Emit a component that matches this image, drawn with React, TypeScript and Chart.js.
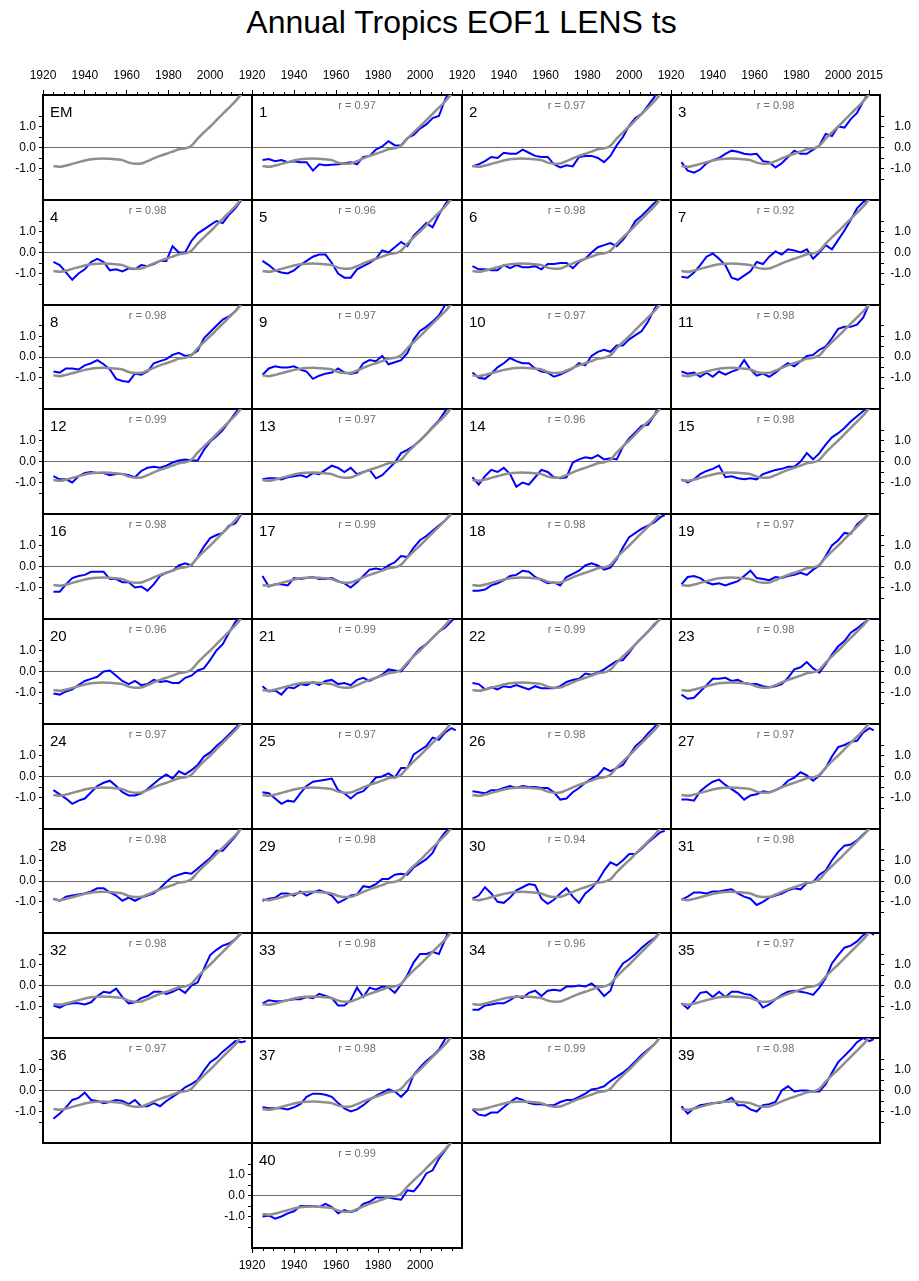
import React, { useEffect, useRef } from 'react';
import { Chart, registerables } from 'chart.js';

Chart.register(...registerables);

const FONT = "'Liberation Sans', Arial, Helvetica, sans-serif";

const TITLE = 'Annual Tropics EOF1 LENS ts';

const YEARS = [1925, 1928, 1931, 1934, 1937, 1940, 1943, 1946, 1949, 1952, 1955, 1958, 1961, 1964, 1967, 1970,
  1973, 1976, 1979, 1982, 1985, 1988, 1991, 1994, 1997, 2000, 2003, 2006, 2009, 2012, 2015, 2017];

const EM = [-0.88, -0.92, -0.86, -0.78, -0.70, -0.62, -0.56, -0.53, -0.52, -0.54, -0.56, -0.60, -0.72, -0.77, -0.76, -0.65,
  -0.52, -0.40, -0.30, -0.20, -0.08, -0.04, 0.08, 0.42, 0.72, 1.00, 1.30, 1.60, 1.90, 2.20, 2.55, 2.75];

const M01 = [-0.6, -0.55, -0.65, -0.6, -0.7, -0.65, -0.7, -0.7, -1.1, -0.8, -0.85, -0.82, -0.8, -0.75, -0.7, -0.8, -0.45, -0.4, -0.1, 0.05, 0.3, 0.1, 0.1, 0.45, 0.6, 0.9, 1.1, 1.4, 1.5, 2.3, 2.8, 3.0];
const M02 = [-0.9, -0.8, -0.65, -0.45, -0.5, -0.25, -0.3, -0.3, -0.1, -0.25, -0.4, -0.45, -0.45, -0.8, -0.95, -0.85, -0.9, -0.45, -0.4, -0.4, -0.5, -0.7, -0.4, 0.1, 0.5, 1.05, 1.4, 1.6, 2.0, 2.4, 2.9, 3.1];
const M03 = [-0.7, -1.1, -1.2, -1.05, -0.75, -0.6, -0.5, -0.3, -0.15, -0.2, -0.3, -0.33, -0.3, -0.65, -0.7, -0.95, -0.75, -0.45, -0.15, -0.3, -0.3, -0.1, 0.1, 0.65, 0.55, 1.0, 0.95, 1.35, 1.65, 2.2, 2.7, 2.9];
const M04 = [-0.45, -0.6, -0.95, -1.3, -1.0, -0.8, -0.45, -0.3, -0.45, -0.85, -0.8, -0.9, -0.75, -0.8, -0.6, -0.65, -0.55, -0.4, -0.4, 0.3, 0.0, 0.0, 0.55, 0.9, 1.1, 1.3, 1.5, 1.4, 1.8, 2.1, 2.5, 2.7];
const M05 = [-0.4, -0.6, -0.85, -0.95, -1.0, -0.85, -0.6, -0.4, -0.2, -0.1, -0.1, -0.5, -1.0, -1.2, -1.2, -0.8, -0.65, -0.5, -0.3, 0.1, 0.0, 0.25, 0.5, 0.3, 0.8, 1.1, 1.4, 1.2, 1.8, 2.3, 2.7, 2.9];
const M06 = [-0.65, -0.8, -0.8, -0.85, -0.85, -0.6, -0.75, -0.6, -0.7, -0.7, -0.65, -0.8, -0.55, -0.55, -0.5, -0.5, -0.75, -0.45, -0.3, 0.0, 0.25, 0.35, 0.45, 0.3, 0.6, 1.0, 1.5, 1.75, 2.05, 2.35, 2.55, 2.7];
const M07 = [-1.15, -1.2, -0.95, -0.6, -0.2, -0.05, -0.3, -0.6, -1.2, -1.3, -1.1, -0.9, -0.45, -0.55, -0.2, 0.05, -0.1, 0.15, 0.1, 0.0, 0.15, -0.3, 0.0, 0.35, 0.15, 0.6, 1.05, 1.55, 2.1, 2.4, 2.6, 2.8];
const M08 = [-0.7, -0.75, -0.55, -0.55, -0.6, -0.4, -0.3, -0.15, -0.35, -0.6, -1.05, -1.15, -1.2, -0.8, -0.85, -0.7, -0.3, -0.2, -0.1, 0.1, 0.2, 0.05, 0.1, 0.3, 0.9, 1.2, 1.5, 1.8, 1.95, 2.2, 2.6, 2.8];
const M09 = [-0.85, -0.55, -0.45, -0.5, -0.5, -0.45, -0.6, -0.7, -1.05, -0.9, -0.8, -0.75, -0.55, -0.75, -0.8, -0.75, -0.3, -0.15, -0.2, 0.05, -0.35, -0.25, -0.15, 0.2, 0.85, 1.25, 1.45, 1.7, 2.0, 2.5, 2.9, 3.1];
const M10 = [-0.75, -1.0, -1.05, -0.8, -0.5, -0.3, -0.05, -0.2, -0.3, -0.3, -0.55, -0.7, -0.75, -0.95, -0.85, -0.7, -0.55, -0.3, -0.4, 0.05, 0.25, 0.35, 0.25, 0.55, 0.55, 0.85, 1.05, 1.25, 1.7, 2.3, 2.7, 2.9];
const M11 = [-0.7, -0.8, -0.75, -0.95, -0.75, -0.95, -0.7, -0.85, -0.7, -0.6, -0.15, -0.6, -0.9, -0.8, -0.95, -0.75, -0.5, -0.3, -0.45, -0.2, 0.05, 0.1, 0.35, 0.5, 0.9, 1.35, 1.45, 1.45, 1.55, 1.9, 2.6, 2.8];
const M12 = [-0.7, -0.85, -0.85, -1.0, -0.7, -0.55, -0.5, -0.55, -0.55, -0.65, -0.6, -0.6, -0.65, -0.75, -0.45, -0.3, -0.25, -0.3, -0.2, -0.05, 0.05, 0.1, 0.05, 0.05, 0.55, 0.95, 1.2, 1.5, 1.9, 2.3, 2.7, 2.9];
const M13 = [-0.85, -0.8, -0.8, -0.85, -0.75, -0.7, -0.65, -0.75, -0.55, -0.6, -0.4, -0.2, -0.3, -0.5, -0.3, -0.6, -0.5, -0.4, -0.8, -0.65, -0.35, -0.05, 0.4, 0.55, 0.75, 1.0, 1.3, 1.65, 1.95, 2.4, 2.8, 3.0];
const M14 = [-0.75, -1.1, -0.7, -0.4, -0.5, -0.3, -0.6, -1.2, -1.0, -1.1, -0.75, -0.4, -0.5, -0.75, -0.8, -0.75, -0.05, 0.1, 0.2, 0.15, 0.3, 0.1, 0.15, 0.1, 0.7, 1.1, 1.4, 1.7, 1.75, 2.2, 2.8, 3.0];
const M15 = [-0.85, -1.0, -0.85, -0.6, -0.45, -0.35, -0.2, -0.75, -0.7, -0.8, -0.85, -0.8, -0.85, -0.6, -0.5, -0.4, -0.35, -0.25, -0.25, 0.0, 0.4, 0.1, 0.4, 0.8, 1.15, 1.35, 1.6, 1.9, 2.15, 2.4, 2.65, 2.8];
const M16 = [-1.2, -1.2, -0.85, -0.55, -0.45, -0.4, -0.25, -0.25, -0.25, -0.6, -0.6, -0.75, -0.75, -1.0, -0.95, -1.15, -0.85, -0.45, -0.3, -0.2, 0.05, 0.15, 0.05, 0.45, 0.95, 1.35, 1.5, 1.6, 1.95, 2.05, 2.5, 2.7];
const M17 = [-0.45, -0.95, -0.85, -0.85, -0.9, -0.55, -0.6, -0.55, -0.5, -0.6, -0.6, -0.55, -0.7, -0.8, -1.0, -0.75, -0.45, -0.15, -0.1, -0.15, 0.05, 0.2, 0.5, 0.45, 0.9, 1.25, 1.45, 1.7, 1.95, 2.2, 2.5, 2.65];
const M18 = [-1.15, -1.15, -1.1, -0.9, -0.8, -0.65, -0.45, -0.4, -0.2, -0.25, -0.5, -0.65, -0.8, -0.75, -0.9, -0.5, -0.35, -0.2, 0.05, 0.15, 0.05, -0.15, -0.05, 0.35, 0.9, 1.4, 1.6, 1.8, 1.95, 2.1, 2.35, 2.45];
const M19 = [-0.85, -0.5, -0.45, -0.55, -0.75, -0.85, -0.8, -0.9, -0.8, -0.7, -0.45, -0.2, -0.55, -0.6, -0.65, -0.5, -0.55, -0.45, -0.4, -0.3, -0.4, -0.15, 0.05, 0.5, 1.0, 1.25, 1.6, 1.55, 2.0, 2.25, 2.55, 2.7];
const M20 = [-1.05, -1.1, -0.95, -0.85, -0.65, -0.45, -0.35, -0.25, 0.0, 0.05, -0.2, -0.45, -0.6, -0.45, -0.65, -0.6, -0.4, -0.5, -0.45, -0.55, -0.55, -0.3, -0.2, 0.05, 0.15, 0.55, 1.0, 1.3, 1.85, 2.35, 2.7, 2.9];
const M21 = [-0.7, -0.95, -0.9, -1.1, -0.75, -0.8, -0.6, -0.65, -0.5, -0.65, -0.45, -0.4, -0.6, -0.55, -0.65, -0.4, -0.3, -0.45, -0.3, -0.15, 0.1, 0.05, 0.0, 0.35, 0.75, 1.1, 1.3, 1.6, 1.9, 2.1, 2.4, 2.6];
const M22 = [-0.55, -0.6, -0.85, -0.75, -0.85, -0.7, -0.75, -0.65, -0.75, -0.85, -0.7, -0.8, -0.8, -0.8, -0.7, -0.5, -0.4, -0.35, -0.1, -0.15, -0.05, 0.1, 0.3, 0.5, 0.55, 0.9, 1.3, 1.6, 1.9, 2.25, 2.5, 2.65];
const M23 = [-1.1, -1.3, -1.25, -0.95, -0.65, -0.35, -0.35, -0.3, -0.45, -0.4, -0.55, -0.6, -0.6, -0.7, -0.75, -0.7, -0.6, -0.3, 0.1, 0.2, 0.45, 0.15, -0.05, 0.35, 0.8, 1.2, 1.45, 1.85, 2.05, 2.3, 2.5, 2.55];
const M24 = [-0.65, -0.85, -1.05, -1.3, -1.15, -1.05, -0.75, -0.45, -0.3, -0.2, -0.45, -0.75, -0.9, -0.9, -0.8, -0.6, -0.35, -0.1, 0.1, -0.1, 0.25, 0.1, 0.3, 0.55, 0.95, 1.15, 1.45, 1.7, 2.0, 2.3, 2.6, 2.8];
const M25 = [-0.75, -0.8, -1.05, -1.3, -1.15, -1.2, -0.8, -0.45, -0.25, -0.2, -0.15, -0.1, -0.65, -0.8, -1.05, -0.8, -0.7, -0.4, -0.05, 0.0, 0.15, -0.05, 0.4, 0.4, 1.05, 1.25, 1.45, 1.85, 1.75, 2.1, 2.3, 2.2];
const M26 = [-0.7, -0.75, -0.8, -0.65, -0.65, -0.55, -0.45, -0.55, -0.45, -0.5, -0.5, -0.55, -0.55, -0.75, -1.1, -1.05, -0.75, -0.55, -0.3, -0.1, 0.05, 0.4, 0.25, 0.4, 0.55, 1.0, 1.45, 1.7, 2.05, 2.35, 2.7, 2.9];
const M27 = [-1.1, -1.1, -1.15, -0.7, -0.45, -0.25, -0.15, -0.4, -0.6, -0.8, -1.1, -0.9, -0.85, -0.7, -0.75, -0.65, -0.5, -0.2, -0.05, 0.2, 0.05, -0.2, 0.05, 0.4, 0.95, 1.4, 1.5, 1.65, 1.7, 2.1, 2.3, 2.2];
const M28 = [-0.85, -0.95, -0.75, -0.7, -0.65, -0.6, -0.5, -0.35, -0.35, -0.55, -0.7, -0.95, -0.8, -0.95, -0.8, -0.7, -0.6, -0.35, -0.05, 0.2, 0.3, 0.4, 0.35, 0.6, 0.85, 1.1, 1.45, 1.45, 1.8, 2.15, 2.55, 2.8];
const M29 = [-0.95, -0.85, -0.8, -0.6, -0.6, -0.7, -0.5, -0.7, -0.55, -0.45, -0.55, -0.7, -1.05, -0.9, -0.7, -0.65, -0.25, -0.3, -0.15, 0.1, 0.1, 0.3, 0.35, 0.3, 0.65, 0.85, 1.05, 1.35, 1.95, 2.35, 2.6, 2.7];
const M30 = [-0.85, -0.7, -0.3, -0.6, -1.0, -1.05, -0.8, -0.45, -0.3, -0.15, -0.2, -0.85, -1.1, -0.9, -0.6, -0.35, -0.75, -1.05, -0.6, -0.35, 0.0, 0.5, 0.9, 0.75, 1.0, 1.3, 1.3, 1.55, 1.85, 2.1, 2.35, 2.4];
const M31 = [-0.9, -0.75, -0.55, -0.55, -0.6, -0.5, -0.5, -0.45, -0.4, -0.6, -0.75, -0.85, -1.15, -1.0, -0.8, -0.7, -0.6, -0.45, -0.35, -0.4, -0.1, -0.05, 0.3, 0.5, 1.0, 1.4, 1.7, 1.75, 1.95, 2.25, 2.5, 2.65];
const M32 = [-0.95, -1.05, -0.9, -0.85, -0.85, -0.9, -0.8, -0.5, -0.3, -0.35, -0.15, -0.55, -0.85, -0.8, -0.6, -0.5, -0.3, -0.3, -0.4, -0.3, -0.15, -0.35, 0.0, 0.15, 0.8, 1.45, 1.7, 1.9, 2.0, 2.2, 2.5, 2.7];
const M33 = [-0.85, -0.7, -0.75, -0.75, -0.7, -0.65, -0.65, -0.55, -0.6, -0.4, -0.5, -0.6, -0.95, -0.95, -0.7, -0.1, -0.55, -0.1, -0.2, -0.05, -0.1, -0.35, 0.05, 0.5, 1.1, 1.5, 1.5, 1.6, 1.5, 2.2, 2.9, 3.1];
const M34 = [-1.15, -1.15, -0.95, -0.9, -0.85, -0.85, -0.7, -0.5, -0.6, -0.35, -0.25, -0.5, -0.25, -0.2, -0.25, -0.05, -0.05, 0.0, -0.05, 0.1, -0.15, -0.5, -0.25, 0.6, 1.05, 1.25, 1.5, 1.8, 2.05, 2.25, 2.55, 2.7];
const M35 = [-0.85, -1.1, -0.75, -0.35, -0.3, -0.55, -0.3, -0.55, -0.3, -0.3, -0.4, -0.45, -0.65, -1.05, -0.9, -0.65, -0.45, -0.3, -0.25, -0.3, -0.35, -0.45, -0.1, 0.35, 1.05, 1.45, 1.8, 1.9, 2.1, 2.4, 2.6, 2.4];
const M36 = [-1.35, -1.1, -0.8, -0.45, -0.35, -0.1, -0.45, -0.5, -0.6, -0.55, -0.45, -0.5, -0.65, -0.45, -0.75, -0.75, -0.6, -0.75, -0.5, -0.3, -0.1, 0.15, 0.3, 0.5, 0.95, 1.35, 1.55, 1.85, 2.1, 2.35, 2.3, 2.35];
const M37 = [-0.8, -0.85, -0.85, -0.85, -0.9, -0.8, -0.65, -0.3, -0.15, -0.15, -0.2, -0.3, -0.6, -0.85, -1.0, -0.9, -0.7, -0.45, -0.25, -0.1, 0.05, -0.05, -0.3, 0.0, 0.75, 1.1, 1.4, 1.65, 1.95, 2.45, 2.9, 3.1];
const M38 = [-0.9, -1.15, -1.2, -1.05, -1.05, -0.8, -0.55, -0.35, -0.45, -0.6, -0.65, -0.65, -0.7, -0.7, -0.55, -0.45, -0.45, -0.3, -0.15, 0.05, 0.1, 0.2, 0.45, 0.65, 0.85, 1.1, 1.4, 1.7, 1.95, 2.2, 2.55, 2.7];
const M39 = [-0.75, -1.1, -0.85, -0.7, -0.65, -0.6, -0.6, -0.5, -0.35, -0.7, -0.7, -0.9, -1.0, -0.7, -0.65, -0.55, 0.0, 0.2, -0.05, 0.0, 0.0, -0.05, -0.05, 0.3, 0.85, 1.35, 1.65, 1.95, 2.3, 2.5, 2.35, 2.45];
const M40 = [-1.0, -0.95, -1.1, -1.0, -0.85, -0.75, -0.5, -0.5, -0.5, -0.55, -0.4, -0.55, -0.85, -0.7, -0.8, -0.7, -0.4, -0.3, -0.1, -0.1, -0.1, -0.15, -0.2, 0.25, 0.2, 0.55, 1.05, 1.2, 1.75, 2.15, 2.55, 2.75];

const MEMBERS = [M01, M02, M03, M04, M05, M06, M07, M08, M09, M10, M11, M12, M13, M14, M15, M16, M17, M18, M19, M20,
  M21, M22, M23, M24, M25, M26, M27, M28, M29, M30, M31, M32, M33, M34, M35, M36, M37, M38, M39, M40];

const R_VALUES = [0.97, 0.97, 0.98, 0.98, 0.96, 0.98, 0.92, 0.98, 0.97, 0.97, 0.98, 0.99, 0.97, 0.96, 0.98, 0.98, 0.99, 0.98, 0.97, 0.96,
  0.99, 0.99, 0.98, 0.97, 0.97, 0.98, 0.97, 0.98, 0.98, 0.94, 0.98, 0.98, 0.98, 0.96, 0.97, 0.97, 0.98, 0.99, 0.98, 0.99];

const PANEL_LABELS = ['EM', ...MEMBERS.map((_, i) => String(i + 1))];

const X_TICKS = [1920, 1925, 1930, 1935, 1940, 1945, 1950, 1955, 1960, 1965, 1970, 1975, 1980, 1985, 1990, 1995, 2000, 2005, 2010, 2015];
const X_MAJOR = [1920, 1940, 1960, 1980, 2000];
const X_MAJOR_RIGHT = [1920, 1940, 1960, 1980, 2000, 2015];
const Y_TICKS = [-1.5, -1, -0.5, 0, 0.5, 1, 1.5];
const Y_LABELED = [-1, 0, 1];

const COL_X = [43, 252, 462, 671, 880];
const ROW_Y = [95, 200, 305, 409, 514, 619, 724, 829, 933, 1038, 1143, 1248];
const MARGIN = { l: 45, r: 31, t: 40, b: 40 };

const decorPlugin = {
  id: 'panelDecor',
  afterDraw(chart: any, _args: any, opts: any) {
    const { ctx, chartArea: a } = chart;
    const xs = chart.scales.x;
    ctx.save();
    ctx.strokeStyle = '#000';
    ctx.lineWidth = 1;
    ctx.beginPath();
    for (const v of X_TICKS) {
      if (opts.majors.includes(v)) continue;
      const px = Math.round(xs.getPixelForValue(v)) + 0.5;
      if (opts.top) { ctx.moveTo(px, a.top); ctx.lineTo(px, a.top - 3); }
      if (opts.bottom) { ctx.moveTo(px, a.bottom); ctx.lineTo(px, a.bottom + 3); }
    }
    ctx.stroke();
    ctx.fillStyle = '#000';
    ctx.font = `15px ${FONT}`;
    ctx.textAlign = 'left';
    ctx.textBaseline = 'alphabetic';
    ctx.fillText(opts.label, a.left + 7, a.top + 22);
    if (opts.r) {
      ctx.fillStyle = '#6e6e6e';
      ctx.font = `11px ${FONT}`;
      ctx.textAlign = 'center';
      ctx.fillText(opts.r, (a.left + a.right) / 2, a.top + 13.5);
    }
    ctx.restore();
  },
};

function Panel({ index }: { index: number }) {
  const ref = useRef<HTMLCanvasElement | null>(null);
  const isLast = index === 40;
  const row = isLast ? 10 : Math.floor(index / 4);
  const col = isLast ? 1 : index % 4;
  const x0 = COL_X[col];
  const x1 = COL_X[col + 1];
  const y0 = ROW_Y[row];
  const y1 = ROW_Y[row + 1];
  const cw = x1 - x0 + MARGIN.l + MARGIN.r;
  const ch = y1 - y0 + MARGIN.t + MARGIN.b;

  useEffect(() => {
    const canvas = ref.current;
    if (!canvas) return;
    const showTop = row === 0;
    const showBottom = isLast;
    const showLeft = col === 0 || isLast;
    const showRight = col === 3 && !isLast;
    const majors = col === 3 ? X_MAJOR_RIGHT : X_MAJOR;
    const font = { family: FONT, size: 12 };
    const border = { display: true, color: '#000', width: 2 };

    const xAxis = (pos: string, show: boolean, padding: number) => ({
      type: 'linear',
      position: pos,
      min: 1920,
      max: 2020,
      display: true,
      afterBuildTicks: (s: any) => { s.ticks = X_TICKS.map((v) => ({ value: v })); },
      afterFit: (s: any) => { s.height = pos === 'top' ? MARGIN.t : MARGIN.b; },
      ticks: {
        display: show,
        autoSkip: false,
        maxRotation: 0,
        minRotation: 0,
        padding,
        font,
        color: '#000',
        callback: (v: any) => (majors.includes(Number(v)) ? String(v) : ''),
      },
      grid: {
        drawOnChartArea: false,
        drawTicks: show,
        tickLength: 5,
        tickWidth: 1,
        tickColor: (c: any) => (c.tick && majors.includes(c.tick.value) ? '#000' : 'rgba(0,0,0,0)'),
      },
      border,
    });

    const yAxis = (pos: string, show: boolean) => ({
      type: 'linear',
      position: pos,
      min: -2.5,
      max: 2.5,
      display: true,
      afterBuildTicks: (s: any) => { s.ticks = Y_TICKS.map((v) => ({ value: v })); },
      afterFit: (s: any) => { s.width = pos === 'left' ? MARGIN.l : MARGIN.r; },
      ticks: {
        display: show,
        autoSkip: false,
        padding: 3,
        crossAlign: pos === 'left' ? 'near' : 'far',
        font,
        color: '#000',
        callback: (v: any) => (Y_LABELED.includes(Number(v)) ? Number(v).toFixed(1) : ''),
      },
      grid: {
        drawOnChartArea: pos === 'left',
        drawTicks: show,
        tickLength: 4,
        tickWidth: 1,
        tickColor: '#000',
        lineWidth: 1,
        color: (c: any) => (c.tick && c.tick.value === 0 ? '#6a6a6a' : 'rgba(0,0,0,0)'),
      },
      border,
    });

    const datasets: any[] = [
      {
        label: 'EM',
        data: YEARS.map((x, i) => ({ x, y: EM[i] })),
        borderColor: '#8e8e8e',
        borderWidth: 2.5,
        pointRadius: 0,
        tension: 0.4,
        cubicInterpolationMode: 'monotone',
        clip: 0,
        order: 0,
        xAxisID: 'x',
        yAxisID: 'y',
      },
    ];
    if (index > 0) {
      const vals = MEMBERS[index - 1];
      datasets.push({
        label: 'member ' + index,
        data: YEARS.map((x, i) => ({ x, y: vals[i] })),
        borderColor: '#0000ff',
        borderWidth: 2,
        pointRadius: 0,
        tension: 0,
        clip: 0,
        order: 1,
        xAxisID: 'x',
        yAxisID: 'y',
      });
    }

    const chart = new Chart(canvas, {
      type: 'line',
      data: { datasets },
      options: {
        responsive: false,
        animation: false,
        events: [],
        layout: { padding: 0 },
        scales: {
          x: xAxis('bottom', showBottom, 5),
          x2: xAxis('top', showTop, 7),
          y: yAxis('left', showLeft),
          y2: yAxis('right', showRight),
        } as any,
        plugins: {
          legend: { display: false },
          tooltip: { enabled: false },
          panelDecor: {
            label: PANEL_LABELS[index],
            r: index > 0 ? 'r = ' + R_VALUES[index - 1].toFixed(2) : '',
            top: showTop,
            bottom: showBottom,
            majors,
          },
        } as any,
      },
      plugins: [decorPlugin],
    } as any);
    return () => chart.destroy();
  }, []);

  return (
    <canvas
      ref={ref}
      width={cw}
      height={ch}
      style={{ position: 'absolute', left: x0 - MARGIN.l, top: y0 - MARGIN.t, width: cw, height: ch }}
    />
  );
}

export default function App() {
  const panels = PANEL_LABELS.map((_, i) => i);
  return (
    <div style={{ position: 'absolute', left: 0, top: 0, width: 919, height: 1281, background: '#fff', overflow: 'hidden' }}>
      <div
        style={{
          position: 'absolute',
          left: 43,
          width: 837,
          top: 6,
          textAlign: 'center',
          fontFamily: FONT,
          fontSize: 32,
          lineHeight: '32px',
          color: '#000',
        }}
      >
        {TITLE}
      </div>
      {panels.map((i) => (
        <Panel key={i} index={i} />
      ))}
    </div>
  );
}
